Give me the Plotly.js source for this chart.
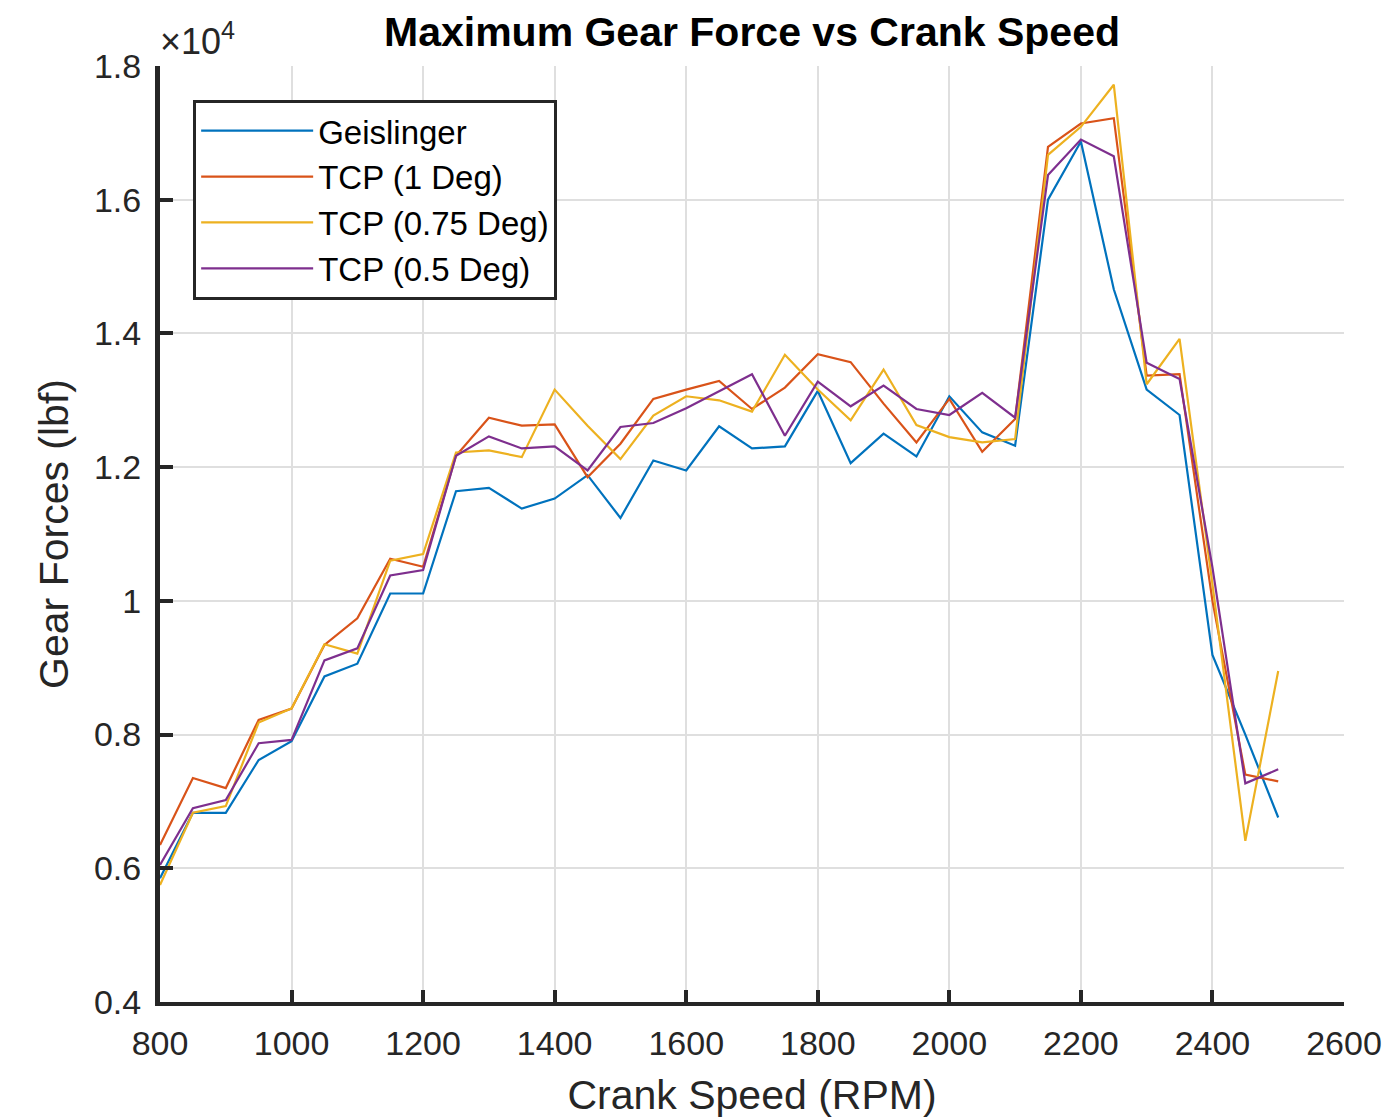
<!DOCTYPE html>
<html>
<head>
<meta charset="utf-8">
<script src="https://cdn.plot.ly/plotly-3.0.1.min.js"></script>
<style>html,body{margin:0;padding:0;background:#fff;}#chart{width:1384px;height:1118px;}</style>
</head>
<body>
<div id="chart"></div>
<script>
// Crank speed (RPM)
var rpm = [800,850,900,950,1000,1050,1100,1150,1200,1250,1300,1350,1400,1450,1500,1550,1600,1650,1700,1750,1800,1850,1900,1950,2000,2050,2100,2150,2200,2250,2300,2350,2400,2450,2500];

// Maximum gear force (lbf)
var geislinger = [5850,6830,6830,7620,7900,8870,9060,10110,10110,11640,11690,11380,11530,11880,11240,12100,11950,12610,12280,12310,13140,12060,12500,12160,13060,12520,12320,16000,16870,14660,13160,12780,9190,8000,6760];
var tcp1 = [6350,7350,7200,8220,8390,9340,9740,10630,10510,12170,12740,12620,12640,11850,12350,13020,13160,13290,12870,13190,13690,13570,12950,12370,13020,12230,12720,16790,17140,17220,13370,13390,10000,7400,7300];
var tcp075 = [5750,6830,6930,8180,8390,9350,9210,10600,10700,12220,12250,12150,13160,12620,12120,12770,13060,13000,12830,13680,13160,12700,13460,12630,12450,12370,12420,16670,17090,17720,13240,13920,10250,6410,8950];
var tcp05 = [6050,6900,7020,7870,7920,9110,9290,10380,10460,12170,12460,12280,12310,11950,12600,12660,12880,13140,13390,12470,13280,12910,13220,12870,12780,13110,12740,16370,16900,16650,13560,13320,10500,7270,7480];

var seriesNames = ['Geislinger','TCP (1 Deg)','TCP (0.75 Deg)','TCP (0.5 Deg)'];
var seriesColors = ['#0072BD','#D95319','#EDB120','#7E2F8E'];

// Axis ticks
var yTickVals = [4000,6000,8000,10000,12000,14000,16000,18000];
var yTickText = ['0.4','0.6','0.8','1','1.2','1.4','1.6','1.8'];

var font = 'Liberation Sans, Arial, Helvetica, sans-serif';
var axisColor = '#262626';

var ys = [geislinger, tcp1, tcp075, tcp05];
var traces = ys.map(function(y, i){
  return {x: rpm, y: y, type: 'scatter', mode: 'lines', name: seriesNames[i],
          line: {color: seriesColors[i], width: 2.2}};
});

var layout = {
  width: 1384, height: 1118,
  margin: {l: 160, r: 40, t: 66, b: 116},
  paper_bgcolor: '#ffffff', plot_bgcolor: '#ffffff',
  font: {family: font, color: axisColor},
  title: {text: '<b>Maximum Gear Force vs Crank Speed</b>', font: {size: 41, color: '#000000', family: font},
          x: 0.5, xref: 'paper', y: 1 - 32/1118, yref: 'container', yanchor: 'middle'},
  xaxis: {range: [800, 2600], tick0: 800, dtick: 200, showgrid: true, gridcolor: '#dfdfdf', gridwidth: 2,
          zeroline: false, showline: true, linecolor: axisColor, linewidth: 4,
          ticks: 'inside', ticklen: 12, tickwidth: 4, tickcolor: axisColor, ticklabelstandoff: 8,
          tickfont: {size: 34, color: axisColor, family: font},
          title: {text: 'Crank Speed (RPM)', font: {size: 41, color: axisColor, family: font}, standoff: 24}},
  yaxis: {range: [4000, 18000], tickvals: yTickVals, ticktext: yTickText, showgrid: true, gridcolor: '#dfdfdf', gridwidth: 2,
          zeroline: false, showline: true, linecolor: axisColor, linewidth: 5,
          ticks: 'inside', ticklen: 13, tickwidth: 4, tickcolor: axisColor, ticklabelstandoff: 7,
          tickfont: {size: 34, color: axisColor, family: font},
          title: {text: 'Gear Forces (lbf)', font: {size: 41, color: axisColor, family: font}, standoff: 14}},
  legend: {x: 0.028, y: 0.964, xanchor: 'left', yanchor: 'top', bgcolor: '#ffffff',
           bordercolor: axisColor, borderwidth: 3, font: {size: 33, color: '#000000', family: font},
           itemwidth: 112, tracegroupgap: 0},
  showlegend: true,
  annotations: [{text: '\u00d710<sup>4</sup>', xref: 'paper', yref: 'paper', x: 0, y: 1, xanchor: 'left', yanchor: 'bottom',
                 showarrow: false, font: {size: 36, color: axisColor, family: font}, xshift: -2, yshift: 2}]
};

Plotly.newPlot('chart', traces, layout, {staticPlot: true, displayModeBar: false});
</script>
</body>
</html>
